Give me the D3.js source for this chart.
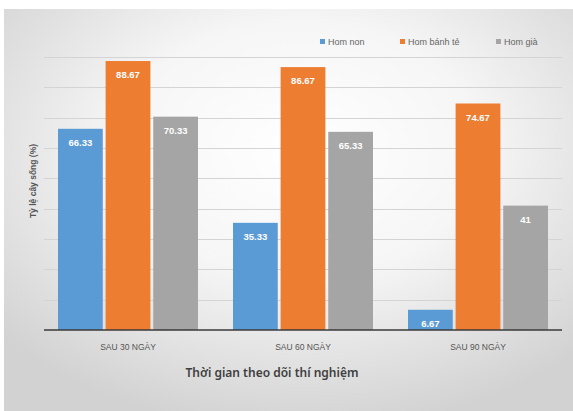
<!DOCTYPE html>
<html>
<head>
<meta charset="utf-8">
<script src="https://cdn.jsdelivr.net/npm/d3@7"></script>
<style>
  html, body { margin: 0; padding: 0; background: #ffffff; }
  svg { display: block; }
</style>
</head>
<body>
<script>
// Survival rate of cuttings by cutting age, measured after 30/60/90 days
const categories = ["SAU 30 NGÀY", "SAU 60 NGÀY", "SAU 90 NGÀY"];
const seriesNames = ["Hom non", "Hom bánh tẻ", "Hom già"];
const homNon = [66.33, 35.33, 6.67];
const homBanhTe = [88.67, 86.67, 74.67];
const homGia = [70.33, 65.33, 41];
const valueLabels = [
  ["66.33", "35.33", "6.67"],
  ["88.67", "86.67", "74.67"],
  ["70.33", "65.33", "41"]
];
const gridTicks = [0, 10, 20, 30, 40, 50, 60, 70, 80, 90];
const colors = ["#5b9bd5", "#ed7d31", "#a5a5a5"];

const W = 573, H = 411;
const svg = d3.select("body").append("svg").attr("width", W).attr("height", H);

// Panel background: light centre fading to grey edges
const defs = svg.append("defs");
const rg = defs.append("radialGradient").attr("id", "bg")
  .attr("cx", "52%").attr("cy", "35%").attr("r", "70%");
rg.append("stop").attr("offset", "0%").attr("stop-color", "#ffffff");
rg.append("stop").attr("offset", "45%").attr("stop-color", "#f6f6f6");
rg.append("stop").attr("offset", "100%").attr("stop-color", "#d2d2d2");

svg.append("rect").attr("x", 4).attr("y", 9).attr("width", W - 4).attr("height", H - 9)
  .attr("fill", "url(#bg)");

const plot = { left: 44, right: 562, top: 57, bottom: 330 };

const x0 = d3.scaleBand().domain(categories).range([plot.left, plot.right]).paddingInner(0.2).paddingOuter(0.08);
const x1 = d3.scaleBand().domain(seriesNames).range([0, x0.bandwidth()]).paddingInner(0.06);
const y = d3.scaleLinear().domain([0, 90]).range([plot.bottom, plot.top]);

// Horizontal gridlines
svg.append("g").selectAll("line").data(gridTicks.filter(d => d > 0)).join("line")
  .attr("x1", plot.left).attr("x2", plot.right)
  .attr("y1", d => Math.round(y(d)) + 0.5).attr("y2", d => Math.round(y(d)) + 0.5)
  .attr("stroke", "#d4d4d4").attr("stroke-width", 1.2);

const series = [homNon, homBanhTe, homGia];

const groups = svg.append("g").selectAll("g").data(categories).join("g")
  .attr("transform", c => `translate(${x0(c)},0)`);

groups.each(function(c, ci) {
  const g = d3.select(this);
  seriesNames.forEach((s, si) => {
    const v = series[si][ci];
    g.append("rect")
      .attr("x", x1(s)).attr("width", x1.bandwidth())
      .attr("y", y(v)).attr("height", y(0) - y(v))
      .attr("fill", colors[si]);
    g.append("text")
      .attr("x", x1(s) + x1.bandwidth() / 2)
      .attr("y", y(v) + 17)
      .attr("text-anchor", "middle")
      .attr("font-family", "Liberation Sans, Arial, sans-serif")
      .attr("font-size", 9.5).attr("font-weight", "bold")
      .attr("fill", "#ffffff")
      .text(valueLabels[si][ci]);
  });
});

// Baseline axis
const xAxis = svg.append("g").attr("transform", `translate(0,${plot.bottom})`)
  .call(d3.axisBottom(x0).tickSize(0).tickPadding(14));
xAxis.select(".domain").attr("stroke", "#3a3a3a").attr("stroke-width", 1.6)
  .attr("d", `M${plot.left},0H${plot.right}`);
xAxis.selectAll("text")
  .attr("font-family", "Liberation Sans, Arial, sans-serif")
  .attr("font-size", 8.5).attr("fill", "#555555");

// Axis titles
svg.append("text")
  .attr("x", 272).attr("y", 377)
  .attr("text-anchor", "middle")
  .attr("font-family", "Noto Sans, Open Sans, sans-serif")
  .attr("font-size", 12).attr("font-weight", "600").attr("fill", "#404040")
  .text("Thời gian theo dõi thí nghiệm");

svg.append("text")
  .attr("transform", "translate(36,181) rotate(-90)")
  .attr("text-anchor", "middle")
  .attr("font-family", "Liberation Sans, Arial, sans-serif")
  .attr("font-size", 8.5).attr("font-weight", "bold").attr("fill", "#555555")
  .text("Tỷ lệ cây sống (%)");

// Legend
const legendX = [320, 400, 496];
const legend = svg.append("g").selectAll("g").data(seriesNames).join("g")
  .attr("transform", (d, i) => `translate(${legendX[i]},42)`);
legend.append("rect").attr("x", 0).attr("y", -3).attr("width", 5).attr("height", 5)
  .attr("fill", (d, i) => colors[i]);
legend.append("text").attr("x", 8).attr("y", 2.5)
  .attr("font-family", "Liberation Sans, Arial, sans-serif")
  .attr("font-size", 9).attr("fill", "#666666")
  .text(d => d);
</script>
</body>
</html>
